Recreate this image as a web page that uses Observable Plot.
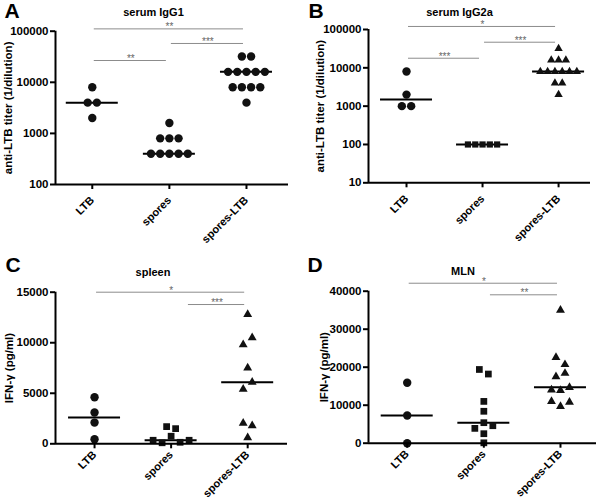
<!DOCTYPE html>
<html><head><meta charset="utf-8">
<script src="https://cdn.jsdelivr.net/npm/d3@7"></script>
<script src="https://cdn.jsdelivr.net/npm/@observablehq/plot@0.6"></script>
<style>
html,body{margin:0;padding:0;background:#fff;}
#wrap{display:grid;grid-template-columns:300px 300px;grid-template-rows:250px 251px;width:600px;height:501px;}
#wrap svg{display:block;overflow:visible;}
</style></head><body><div id="wrap"></div>
<script>
const categories = ["LTB", "spores", "spores-LTB"];

// Panel A – serum IgG1 titers (1/dilution)
const igg1LTB = [8000, 4000, 4000, 2000];
const igg1Spores = [1600, 800, 800, 800, 400, 400, 400, 400, 400];
const igg1SporesLTB = [32000, 32000, 16000, 16000, 16000, 16000, 16000, 8000, 8000, 8000, 8000, 4000];
const ticksA = [100, 1000, 10000, 100000];
const sigA = [
  {from: 0, to: 2, level: 111000, label: "**"},
  {from: 1, to: 2, level: 57500, label: "***"},
  {from: 0, to: 1, level: 26700, label: "**"}
];

// Panel B – serum IgG2a titers
const igg2aLTB = [8000, 2000, 1000, 1000];
const igg2aSpores = [100, 100, 100, 100, 100];
const igg2aSporesLTB = [32000, 16000, 16000, 16000, 8000, 8000, 8000, 8000, 8000, 8000, 4000, 4000, 2000];
const ticksB = [10, 100, 1000, 10000, 100000];
const sigB = [
  {from: 0, to: 2, level: 120000, label: "*"},
  {from: 1, to: 2, level: 46600, label: "***"},
  {from: 0, to: 1, level: 17800, label: "***"}
];

// Panel C – spleen IFN-γ (pg/ml)
const spleenLTB = [4600, 3100, 2100, 450];
const spleenSpores = [1700, 1500, 350, 100, 750, 150, 350];
const spleenSporesLTB = [12800, 9800, 10500, 7500, 5400, 6100, 2050, 1800, 600];
const ticksC = [0, 5000, 10000, 15000];
const sigC = [
  {from: 0, to: 2, level: 15000, label: "*"},
  {from: 1.2, to: 2, level: 13780, label: "***"}
];

// Panel D – MLN IFN-γ (pg/ml)
const mlnLTB = [15900, 7300, 0];
const mlnSpores = [19400, 18200, 11000, 8400, 3900, 5400, 4600, 2500, 100];
const mlnSporesLTB = [35000, 22600, 20700, 17500, 18400, 14000, 13900, 14700, 11000, 9700, 10800];
const ticksD = [0, 10000, 20000, 30000, 40000];
const sigD = [
  {from: 0, to: 2, level: 42100, label: "*"},
  {from: 1.06, to: 2, level: 39050, label: "**"}
];

const FONT = "'Liberation Sans', Arial, Helvetica, sans-serif";

const panels = [
  {letter: "A", title: "serum IgG1", ylabel: "anti-LTB titer (1/dilution)", type: "log", yDomain: [100, 100000], ticks: ticksA,
   groups: [igg1LTB, igg1Spores, igg1SporesLTB], sig: sigA, symbols: ["circle", "circle", "circle"], r: [4.2, 4.2, 4.2], spacing: [9.2, 9.2, 9.2],
   height: 250, mL: 55, mR: 12, mT: 30.7, mB: 66, xDomain: [-0.477, 2.545], letterPos: [4, 17], titlePos: [153, 15], ylabelX: 7.5, xPad: 9},
  {letter: "B", title: "serum IgG2a", ylabel: "anti-LTB titer (1/dilution)", type: "log", yDomain: [10, 100000], ticks: ticksB,
   groups: [igg2aLTB, igg2aSpores, igg2aSporesLTB], sig: sigB, symbols: ["circle", "square", "triangle"], r: [4.2, 3.5, 3.1], spacing: [9.3, 7.3, 7.3],
   height: 250, mL: 68, mR: 10, mT: 29, mB: 67.7, xDomain: [-0.5, 2.42], letterPos: [8, 17], titlePos: [159, 15], ylabelX: 19.7, xPad: 9},
  {letter: "C", title: "spleen", ylabel: "IFN-\u03b3 (pg/ml)", type: "linear", yDomain: [0, 15000], ticks: ticksC,
   groups: [spleenLTB, spleenSpores, spleenSporesLTB], sig: sigC, symbols: ["circle", "square", "triangle"], r: [4.2, 3.8, 3.3], spacing: [9, 9, 9],
   height: 251, mL: 55, mR: 13, mT: 41.7, mB: 57.7, xDomain: [-0.51, 2.52], letterPos: [5, 21], titlePos: [152.5, 25], ylabelX: 9, xPad: 4},
  {letter: "D", title: "MLN", ylabel: "IFN-\u03b3 (pg/ml)", type: "linear", yDomain: [0, 40000], ticks: ticksD,
   groups: [mlnLTB, mlnSpores, mlnSporesLTB], sig: sigD, symbols: ["circle", "square", "triangle"], r: [4.2, 3.8, 3.3], spacing: [9, 9, 9],
   height: 251, mL: 68, mR: 4, mT: 40.7, mB: 58.3, xDomain: [-0.505, 2.47], letterPos: [7, 21.5], titlePos: [162.5, 24], ylabelX: 24, xPad: 4}
];

const WIDTH = 300;
const ROW_THRESHOLD = 8.5; // px: points closer than this vertically share a row
const MEDIAN_HALF = 26;    // px

function layoutGroup(values, gi, yPx, spacingPx, pxPerUnit) {
  const order = values.map((v, i) => i).sort((a, b) => values[b] - values[a] || a - b);
  const rows = [];
  let cur = null;
  for (const i of order) {
    const py = yPx(values[i]);
    if (cur && Math.abs(py - cur.start) < ROW_THRESHOLD) cur.items.push(i);
    else { cur = {start: py, items: [i]}; rows.push(cur); }
  }
  const pts = [];
  for (const row of rows) {
    row.items.sort((a, b) => a - b);
    const n = row.items.length;
    row.items.forEach((i, k) => pts.push({group: gi, value: values[i], x: gi + (k - (n - 1) / 2) * spacingPx / pxPerUnit}));
  }
  return pts;
}

const wrap = document.getElementById("wrap");
for (const p of panels) {
  const H = p.height;
  const yPx = (p.type === "log" ? d3.scaleLog() : d3.scaleLinear()).domain(p.yDomain).range([H - p.mB, p.mT]);
  const pxPerUnit = (WIDTH - p.mL - p.mR) / (p.xDomain[1] - p.xDomain[0]);
  const halfW = MEDIAN_HALF / pxPerUnit;
  const medians = p.groups.map((g, gi) => ({group: gi, median: d3.median(g)}));
  const dotMarks = p.groups.map((g, gi) =>
    Plot.dot(layoutGroup(g, gi, yPx, p.spacing[gi], pxPerUnit), {
      x: "x", y: "value", symbol: p.symbols[gi], r: p.r[gi], fill: "#111", stroke: "none"
    })
  );
  const chart = Plot.plot({
    width: WIDTH, height: H,
    marginLeft: p.mL, marginRight: p.mR, marginTop: p.mT, marginBottom: p.mB,
    x: {type: "linear", domain: p.xDomain, label: null},
    y: {type: p.type, domain: p.yDomain, label: null},
    style: {fontFamily: FONT, color: "#000", background: "#fff", overflow: "visible"},
    marks: [
      Plot.ruleY(p.sig, {y: "level", x1: "from", x2: "to", stroke: "#8c8c8c", strokeWidth: 1, insetLeft: 2, insetRight: 3}),
      Plot.text(p.sig, {x: d => (d.from + d.to) / 2, y: "level", text: "label", lineAnchor: "bottom", dy: 1.5, fill: "#666", fontSize: 10}),
      Plot.ruleY(medians, {y: "median", x1: d => d.group - halfW, x2: d => d.group + halfW, stroke: "#000", strokeWidth: 2}),
      ...dotMarks,
      Plot.ruleX([p.xDomain[0]], {stroke: "#000", strokeWidth: 2}),
      Plot.ruleY([p.yDomain[0]], {stroke: "#000", strokeWidth: 2}),
      Plot.axisY({ticks: p.ticks, tickFormat: d3.format("d"), tickSize: 5, tickPadding: 2, strokeWidth: 2, fontSize: 11.5, fontWeight: "bold", label: null}),
      Plot.axisX({ticks: [0, 1, 2], tickFormat: i => categories[i], tickRotate: -45, tickSize: 5, tickPadding: p.xPad, strokeWidth: 2, fontSize: 11, fontWeight: "bold", label: null}),
      Plot.text([p.letter], {text: d => d, frameAnchor: "top-left", dx: p.letterPos[0] - p.mL, dy: p.letterPos[1] - p.mT, textAnchor: "start", lineAnchor: "bottom", fontSize: 21, fontWeight: "bold"}),
      Plot.text([p.title], {text: d => d, frameAnchor: "top-left", dx: p.titlePos[0] - p.mL, dy: p.titlePos[1] - p.mT, textAnchor: "middle", lineAnchor: "bottom", fontSize: 11, fontWeight: "bold"}),
      Plot.text([p.ylabel], {text: d => d, frameAnchor: "left", dx: p.ylabelX - p.mL, rotate: -90, textAnchor: "middle", lineAnchor: "middle", fontSize: 11.5, fontWeight: "bold"})
    ]
  });
  wrap.appendChild(chart);
}
</script></body></html>
